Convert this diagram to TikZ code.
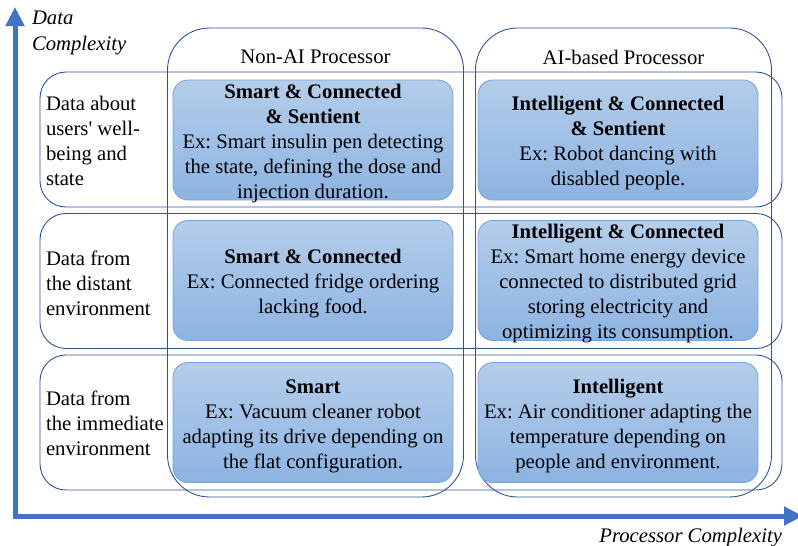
\documentclass[tikz,border=0pt]{standalone}
\usepackage{fontspec}
\setmainfont{Liberation Serif}
\usetikzlibrary{arrows.meta}
\definecolor{axisblue}{HTML}{4472C4}
\definecolor{linec}{HTML}{2F5597}
\definecolor{boxtop}{HTML}{B4CDEA}
\definecolor{boxbot}{HTML}{8DB3E2}
\definecolor{boxedge}{HTML}{7AA5D8}
\frenchspacing
\begin{document}
\begin{tikzpicture}[x=1pt,y=-1pt,
  every node/.style={font=\fontsize{20.7pt}{25pt}\selectfont, inner sep=0pt, outer sep=0pt},
  rowbox/.style={draw=linec, line width=0.9pt, rounded corners=26pt, minimum width=742pt, minimum height=135pt},
  colbox/.style={draw=linec, line width=0.9pt, rounded corners=42pt, minimum width=296pt, minimum height=469pt},
  bluebox/.style={draw=boxedge, line width=0.9pt, rounded corners=15pt, top color=boxtop, bottom color=boxbot, minimum width=280pt, minimum height=120pt},
  boxtext/.style={align=center, yshift=-3.5pt},
  rowlabel/.style={anchor=west, align=left},
  axislabel/.style={font=\fontsize{20.7pt}{25.5pt}\selectfont\itshape, align=left},
  axis/.style={draw=axisblue, line width=5pt, line join=miter, {Triangle[length=19pt,width=18pt]}-{Triangle[length=19pt,width=18pt]}}
]
\useasboundingbox (0,0) rectangle (798,546);
\clip (0,0) rectangle (798,546);

% column frames
\node[colbox] (c1) at (315.5,262.5) {};
\node[colbox] (c2) at (623.5,262.5) {};
\node (h1) at (315.5,57) {Non-AI Processor};
\node (h2) at (623.5,57) {AI-based Processor};

% row frames
\node[rowbox] (r1) at (411,139.5) {};
\node[rowbox] (r2) at (411,281) {};
\node[rowbox] (r3) at (411,422.5) {};

\node[rowlabel] (l1) at (46,141) {Data about\\users\textquotesingle{} well-\\being and\\state};
\node[rowlabel] (l2) at (46,283) {Data from\\the distant\\environment};
\node[rowlabel] (l3) at (46,423.5) {Data from\\the immediate\\environment};

% blue boxes
\node[bluebox] (b11) at (313,140) {};
\node[bluebox] (b12) at (618,140) {};
\node[bluebox] (b21) at (313,280.5) {};
\node[bluebox] (b22) at (618,280.5) {};
\node[bluebox] (b31) at (313,422.5) {};
\node[bluebox] (b32) at (618,422.5) {};

\node[boxtext] (t11) at (b11.center) {\textbf{Smart \& Connected}\\\textbf{\& Sentient}\\Ex: Smart insulin pen detecting\\the state, defining the dose and\\injection duration.};
\node[boxtext] (t12) at (b12.center) {\textbf{Intelligent \& Connected}\\\textbf{\& Sentient}\\Ex: Robot dancing with\\disabled people.};
\node[boxtext] (t21) at (b21.center) {\textbf{Smart \& Connected}\\Ex: Connected fridge ordering\\lacking food.};
\node[boxtext] (t22) at (b22.center) {\textbf{Intelligent \& Connected}\\Ex: Smart home energy device\\connected to distributed grid\\storing electricity and\\optimizing its consumption.};
\node[boxtext] (t31) at (b31.center) {\textbf{Smart}\\Ex: Vacuum cleaner robot\\adapting its drive depending on\\the flat configuration.};
\node[boxtext] (t32) at (b32.center) {\textbf{Intelligent}\\Ex: Air conditioner adapting the\\temperature depending on\\people and environment.};

% axes
\coordinate (o) at (15,516);
\coordinate (ytip) at (15,7);
\coordinate (xtip) at (803,516);
\draw[axis] (ytip) -- (o) -- (xtip);
\node[axislabel, anchor=north west] (ylab) at (32,11) {Data\\Complexity};
\node[axislabel, anchor=east] (xlab) at (782,538) {Processor Complexity};
\end{tikzpicture}
\end{document}
